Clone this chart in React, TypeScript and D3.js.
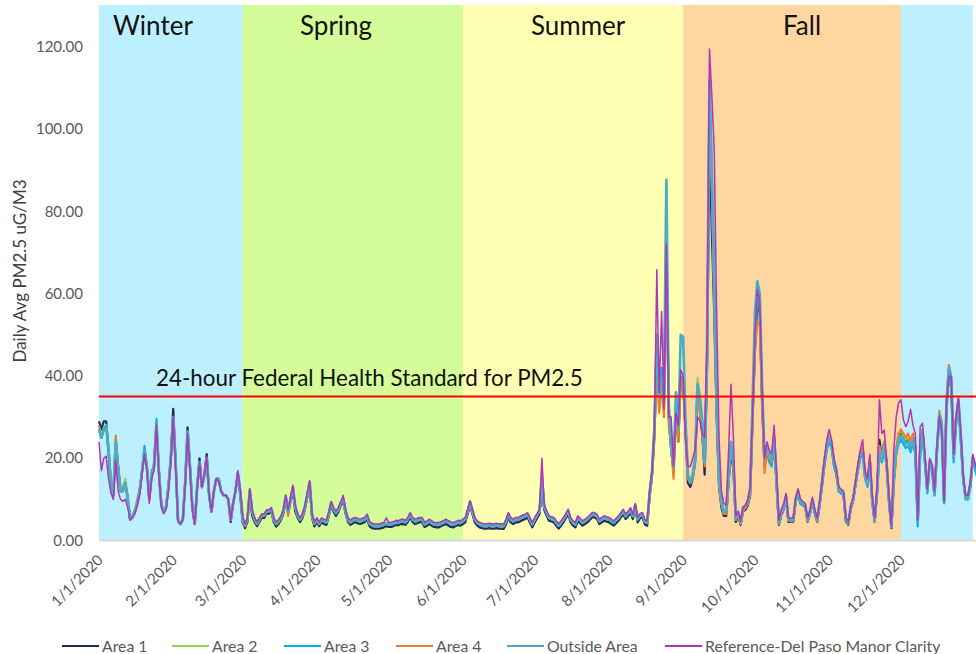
import * as d3 from 'd3';

// daily averages, 1/1/2020 .. 1/2/2021 (one value per day)
const AREA_1 = [
  29, 27, 29, 29, 22, 14, 11, 24, 18, 12, 12, 14, 10, 5, 6, 7, 9, 12, 17, 21, 18, 10, 16, 18, 28, 17, 9, 7, 8, 13, 20,
  32, 19, 5, 4, 5, 14, 27.5, 18, 8, 4, 13, 20, 13, 16, 21, 11, 7, 12, 15, 14.5, 12, 11, 11, 10, 4.5, 9, 12, 16, 11,
  4.5, 3, 4.5, 11, 6, 4.5, 3.5, 4.5, 5.5, 5.5, 6.5, 6.5, 7, 4.5, 3.4, 4, 5, 6.5, 10, 6.5, 9.5, 12, 7, 5.5, 4.5, 5.5, 7.5, 10.5, 13.5, 5.5, 3.4,
  4.5, 3.5, 4.5, 4, 3.8, 6, 8.5, 7, 6, 7, 8.5, 9.5, 6.5, 4.5, 3.8, 4.2, 4.5, 4.2, 4, 4.2, 4.5, 5.2, 3.5, 3, 2.9, 2.9, 2.9, 3, 3.2, 3.5,
  3.3, 3.3, 3.5, 3.8, 3.7, 4, 4, 3.8, 4.5, 5.6, 4.5, 4, 4.2, 4.5, 4.4, 3.3, 3.6, 4, 3.6, 3.3, 3.2, 3.2, 3.5, 3.8, 4, 3.6, 3.3, 3.2, 3.5, 3.8, 3.6,
  4, 4.4, 6.4, 8.5, 6.4, 4.4, 3.6, 3.2, 3, 2.9, 2.9, 3, 2.9, 2.9, 3, 2.9, 2.9, 2.8, 3.9, 5.6, 4.4, 4, 4.4, 4.4, 4.7, 5, 5.2, 5.6, 4.4, 3.2,
  4.4, 5.4, 6.4, 12, 7.4, 6, 4.8, 4.6, 4.4, 3.6, 2.9, 3.6, 4.4, 5.4, 6.4, 4.4, 3.6, 3.2, 4.8, 4.2, 3.6, 4, 4.4, 5, 5.6, 5.6, 5.2, 4, 4.4, 4.8, 4.6,
  4.4, 4, 3.6, 4.2, 4.8, 5.6, 6.4, 5.2, 5.9, 6.8, 5.2, 7.8, 4.4, 5.4, 5.6, 3.9, 3.6, 10.5, 15.5, 25, 45, 35, 38, 32, 70, 30, 22, 17, 32, 24, 39,
  38, 26, 14, 13, 15, 19, 35, 32, 26, 16, 42, 96, 75, 55, 30, 13, 8, 6, 6, 14, 22, 17, 4.5, 6, 3.8, 7, 7.5, 8.5, 11, 29,
  46, 58, 55, 33, 18, 22, 20, 19, 24.5, 14, 3.8, 6.2, 7.5, 10, 4.5, 4.6, 4.6, 9.5, 11.5, 9, 8.6, 8.2, 4.6, 6.6, 9.5, 6.6, 4.5, 8.5, 13.5, 18.5, 22.5,
  25, 23, 18.5, 16.5, 12, 11.5, 11, 4.6, 3.8, 7.6, 9.6, 13.5, 17.5, 21, 22, 16, 14, 19, 9.5, 4.5, 12, 24.5, 20, 24, 18.5, 9.5, 3, 14.5, 21.5, 25,
  26, 25, 24, 25, 24, 25, 22.5, 4.5, 21.5, 26.5, 19.5, 12, 19, 17.5, 11, 22, 30, 28, 9.5, 33, 40, 38.5, 20, 29.5, 33, 25, 15, 10.5, 10.5, 13.5, 20,
  17.5, 15.5,
];

const AREA_2 = [
  27, 25, 27.5, 28, 22, 14, 12, 23, 17, 13, 13, 15, 10, 5, 5.5, 7, 9, 12, 17, 21, 18, 10, 16, 18, 28, 17, 9, 7, 8, 13, 20,
  30, 19, 4.5, 4, 5, 14, 26, 18, 8, 4, 13, 19, 13, 16, 20, 11, 7, 12, 15, 15, 12, 11, 11, 10, 5, 9, 12, 16.5, 12,
  5, 3.6, 5.2, 12, 7, 5.2, 4, 5, 6, 6.2, 7, 7, 7.5, 5, 4, 4.5, 5.5, 7, 10.5, 7, 10, 13, 8, 6, 5, 6, 8.2, 11, 14.5, 6, 4,
  5, 4, 5, 4.6, 4.4, 6.5, 9, 7.6, 6.6, 7.5, 9, 10.2, 7, 5, 4.4, 4.8, 5, 4.8, 4.7, 4.8, 5, 5.8, 4.1, 3.7, 3.5, 3.5, 3.5, 3.6, 3.8, 4.1,
  3.9, 3.9, 4.1, 4.4, 4.3, 4.6, 4.7, 4.4, 5.1, 6.3, 5.1, 4.7, 4.9, 5.1, 5, 3.9, 4.3, 4.7, 4.3, 3.9, 3.9, 3.9, 4.1, 4.4, 4.7, 4.3, 4, 3.9, 4.1, 4.4, 4.3,
  4.7, 5.1, 7.1, 9, 7.1, 5.1, 4.3, 3.9, 3.7, 3.6, 3.6, 3.7, 3.6, 3.6, 3.7, 3.6, 3.6, 3.5, 4.6, 6.3, 5.1, 4.7, 5.1, 5.1, 5.4, 5.7, 5.9, 6.3, 5.1, 3.9,
  5.1, 6.1, 7.1, 14, 8.1, 6.7, 5.5, 5.3, 5.1, 4.3, 3.6, 4.3, 5.1, 6.1, 7.1, 5.1, 4.3, 3.9, 5.5, 4.9, 4.3, 4.7, 5.1, 5.7, 6.3, 6.3, 5.9, 4.7, 5.1, 5.5, 5.3,
  5.1, 4.7, 4.3, 4.9, 5.5, 6.3, 7.1, 5.9, 6.6, 7.5, 5.9, 8.5, 5.1, 6.1, 6.3, 4.6, 4.3, 11.5, 16.5, 27, 48, 36, 40, 33, 75, 31, 24, 18, 33, 26, 40,
  39, 28, 16, 14.5, 16, 20, 39.5, 35, 29, 19, 45, 110, 90, 62, 34, 14, 9, 6.6, 6.5, 15, 23, 18.8, 5, 6.6, 4.2, 7.4, 8, 9, 12, 31,
  49, 60, 57, 35, 19.6, 23, 21, 20, 25.5, 15, 4.2, 6.6, 8, 10.7, 5, 5, 5, 10, 12.5, 9.4, 9, 8.6, 5, 7, 9.9, 7, 5, 9, 14, 19.5, 23.5,
  26, 24, 19, 17, 12.3, 12, 11.5, 5, 4.2, 8, 10, 14, 18, 21.2, 22.5, 16.5, 14, 20, 10, 5, 12, 22, 20, 23.6, 18.8, 10, 3.4, 15, 22, 25.5,
  27, 25.5, 24.5, 25, 23.5, 25.5, 23, 5, 22, 27, 20, 12.3, 19.6, 18, 11.5, 22, 31, 29, 9.9, 33.4, 41, 39.5, 20.4, 30, 34, 25.3, 15.5, 10.7, 11, 14, 20.4,
  18, 16,
];

const AREA_3 = [
  27, 25, 27, 28, 21, 13, 11, 24, 17, 12, 12, 14, 10, 5, 6, 7, 9, 12, 17, 23, 18, 11, 17, 18, 29.5, 17, 9, 7, 8, 13, 20,
  30, 19, 5, 4, 5, 14, 26, 18, 8, 4, 13, 19, 13, 16, 20, 11, 7, 12, 15, 15, 12, 11, 11, 10, 5, 9, 12, 16, 12,
  5, 3.5, 5, 12.5, 7, 5, 4, 5, 6, 6, 7, 7, 7.5, 5, 4, 4.5, 5.5, 7, 10.5, 7, 10, 12.5, 8, 6, 5, 6, 8, 11, 14, 6, 4,
  5, 4, 5, 4.6, 4.3, 6.5, 9, 7.5, 6.6, 7.5, 9, 10, 7, 5, 4.3, 4.8, 5, 4.8, 4.6, 4.8, 5, 5.8, 4, 3.6, 3.4, 3.4, 3.4, 3.6, 3.8, 4,
  3.8, 3.8, 4, 4.3, 4.2, 4.5, 4.6, 4.3, 5, 6.4, 5, 4.6, 4.8, 5, 5, 3.8, 4.2, 4.6, 4.2, 3.8, 3.8, 3.8, 4, 4.3, 4.6, 4.2, 3.9, 3.8, 4, 4.3, 4.2,
  4.6, 5, 7.2, 9.5, 7, 5, 4.2, 3.8, 3.6, 3.5, 3.5, 3.6, 3.5, 3.5, 3.6, 3.5, 3.5, 3.4, 4.5, 6.2, 5, 4.6, 5, 5, 5.3, 5.6, 5.8, 6.2, 5, 3.8,
  5, 6, 7, 15, 8, 6.6, 5.4, 5.2, 5, 4.2, 3.5, 4.2, 5, 6, 7, 5, 4.2, 3.8, 5.4, 4.8, 4.2, 4.6, 5, 5.6, 6.2, 6.2, 5.8, 4.6, 5, 5.4, 5.2,
  5, 4.6, 4.2, 4.8, 5.4, 6.2, 7, 5.8, 6.5, 7.4, 5.8, 8.4, 5, 6, 6.2, 4.5, 4.2, 11.5, 16.4, 27, 50, 34, 42, 33, 78, 30, 22, 17, 33, 25, 40,
  39, 28, 15, 14, 15.5, 19, 37, 34, 28, 19, 44, 107, 88, 60, 33, 14, 9, 6.5, 6.5, 15, 23.6, 18, 5, 6.5, 4.2, 7.4, 8, 9, 12, 31,
  50, 60, 57, 35, 18, 21, 19, 18, 23, 14, 4, 6.4, 7.8, 10.4, 4.8, 4.8, 4.8, 9.5, 11.5, 9, 8.6, 8.2, 4.8, 6.6, 9.5, 6.6, 4.8, 8.5, 13, 18, 22,
  24, 22.5, 18, 16, 12, 11.5, 11, 4.8, 4, 7.6, 9.6, 13.5, 17, 20, 21, 15, 13, 18, 9.5, 4.8, 11.5, 21, 19, 22, 18, 9.5, 3.2, 14, 21, 23.5,
  24.5, 23.5, 22.5, 23, 21.5, 23.5, 21, 3.4, 21, 25.5, 19, 11.5, 18.5, 17, 11, 21, 29, 27, 9, 31, 40, 37, 19, 28, 33, 24, 14.5, 10, 10, 13, 19.5,
  17, 15,
];

const AREA_4 = [
  28, 25, 27, 28, 22, 14, 12, 25.5, 18, 13, 12, 14, 11, 5, 6, 7.5, 10, 12.5, 17, 21, 18, 10, 16, 19, 28, 17, 9, 7, 8, 13, 20,
  30, 19, 5, 4, 5, 14, 26, 18, 8, 4, 13, 19, 13, 16, 20, 11, 7.5, 12, 15, 15, 12, 11, 11, 10, 5, 9, 12, 16, 11.5,
  5, 3.5, 5, 12, 7, 5, 4, 5, 6, 6, 7, 7, 7.5, 5, 4, 4.5, 5.5, 7.5, 11, 6, 10, 12.7, 8, 6, 5, 6, 8, 11, 14, 6, 4,
  5, 4, 5.2, 4.6, 4.4, 6.5, 9.2, 7.5, 6.7, 7.6, 9, 10, 7.2, 5, 4.3, 4.9, 5.1, 4.9, 4.7, 4.9, 5.1, 5.9, 4.1, 3.7, 3.5, 3.5, 3.5, 3.7, 3.9, 4.1,
  3.9, 3.9, 4.1, 4.4, 4.3, 4.6, 4.7, 4.4, 5.1, 6.4, 5.1, 4.7, 4.9, 5.1, 5.1, 3.9, 4.3, 4.7, 4.3, 3.9, 3.9, 3.9, 4.1, 4.4, 4.7, 4.3, 4, 3.9, 4.1, 4.4, 4.3,
  4.7, 5.1, 7, 9, 7, 5.1, 4.3, 3.9, 3.7, 3.6, 3.6, 3.7, 3.6, 3.6, 3.7, 3.6, 3.6, 3.5, 4.6, 6.2, 5.1, 4.7, 5.1, 5.1, 5.4, 5.7, 5.9, 6.3, 5.1, 3.9,
  5.1, 6.1, 7.1, 16, 8.1, 6.7, 5.5, 5.3, 5.1, 4.3, 3.6, 4.3, 5.1, 6.1, 7.1, 5.1, 4.3, 3.9, 5.5, 4.9, 4.3, 4.7, 5.1, 5.7, 6.3, 6.3, 5.9, 4.7, 5.1, 5.5, 5.3,
  5.1, 4.7, 4.3, 4.9, 5.5, 6.3, 7.1, 5.9, 6.6, 7.5, 5.9, 8.5, 5.1, 6.1, 6.3, 4.6, 4.3, 11, 16, 26, 42, 31, 38, 30, 72, 28, 23, 15, 30, 24, 39,
  38, 27, 15, 14, 15, 19, 36, 31, 26, 18, 43, 104, 85, 60, 32, 14, 9, 6.5, 6.4, 15, 23, 18, 5, 6.4, 4, 7, 8, 9, 11.5, 30,
  47, 52.8, 53, 33, 16.4, 22, 20, 19, 25, 15, 4, 6.4, 8, 10.5, 4.8, 4.8, 4.8, 9.8, 12, 9.4, 9, 8.4, 4.8, 7, 9.8, 7, 4.6, 9, 14, 19, 23,
  25.5, 24, 19.5, 17, 12.5, 12, 11.5, 4.8, 4, 8, 10, 14, 18, 21.5, 22.5, 16, 14, 19.6, 10, 4.5, 12, 23, 20.5, 24, 19, 10, 3.5, 15, 22.5, 26,
  27, 26, 25, 26, 24, 26, 23, 4.5, 22.5, 27, 20, 12, 19.6, 18, 11, 22.5, 31.5, 29, 9.5, 34, 42.7, 40, 20.4, 30, 34.6, 25.3, 15, 10, 11, 14, 20.4,
  18, 16,
];

const OUTSIDE_AREA = [
  27, 25, 27, 28, 22, 13, 11, 24, 17, 12, 12, 14, 10, 5.5, 6, 7, 9, 12, 17, 22, 18, 10, 16, 18, 28.5, 17, 9, 7, 8, 13, 20,
  30, 19, 5, 4.2, 5, 14, 26.5, 18, 8, 4.2, 13, 19, 13, 16, 20, 11, 7, 12, 15, 15, 12, 11, 11, 10, 5, 9, 12, 16.5, 12,
  5.2, 3.7, 5.2, 12, 7.2, 5.2, 4.2, 5.2, 6.2, 6.2, 7.2, 7.2, 7.7, 5.2, 4.2, 4.7, 5.7, 7.2, 10.7, 7.2, 10.2, 12.9, 8.2, 6.2, 5.2, 6.2, 8.2, 11.2, 14.2, 6.2, 4.2,
  5.2, 4.2, 5.2, 4.8, 4.5, 6.7, 9.2, 7.7, 6.8, 7.7, 9.2, 10.2, 7.2, 5.2, 4.5, 5, 5.2, 5, 4.8, 5, 5.2, 6, 4.2, 3.8, 3.6, 3.6, 3.6, 3.8, 4, 4.2,
  4, 4, 4.2, 4.5, 4.4, 4.7, 4.8, 4.5, 5.2, 6.4, 5.2, 4.8, 5, 5.2, 5.2, 4, 4.4, 4.8, 4.4, 4, 4, 4, 4.2, 4.5, 4.8, 4.4, 4.1, 4, 4.2, 4.5, 4.4,
  4.8, 5.2, 7.2, 9.4, 7.2, 5.2, 4.4, 4, 3.8, 3.7, 3.7, 3.8, 3.7, 3.7, 3.8, 3.7, 3.7, 3.6, 4.7, 6.4, 5.2, 4.8, 5.2, 5.2, 5.5, 5.8, 6, 6.4, 5.2, 4,
  5.2, 6.2, 7.2, 15, 8.2, 6.8, 5.6, 5.4, 5.2, 4.4, 3.7, 4.4, 5.2, 6.2, 7.2, 5.2, 4.4, 4, 5.6, 5, 4.4, 4.8, 5.2, 5.8, 6.4, 6.4, 6, 4.8, 5.2, 5.6, 5.4,
  5.2, 4.8, 4.4, 5, 5.6, 6.4, 7.2, 6, 6.7, 7.6, 6, 8.6, 5.2, 6.2, 6.4, 4.7, 4.4, 11.7, 16.6, 27.5, 50, 35, 40, 34, 87.7, 33, 24, 18, 36, 27, 50,
  49.5, 29, 16, 14, 16, 20, 38, 35, 29, 19, 46, 112, 90, 62, 34, 15, 9.5, 7, 7, 16, 24, 19, 5.5, 7, 4.5, 8, 8.5, 9.5, 12.5, 33,
  55, 63, 60, 37, 20, 23, 21, 19.6, 25.3, 15, 4.2, 6.6, 8, 10.7, 5, 5, 5, 9.9, 11.9, 9.4, 9, 8.6, 5, 7, 9.9, 7, 5, 9, 14, 19, 23,
  25, 23.5, 19, 17, 12.3, 12, 11.5, 5, 4.2, 8, 10, 14, 17.5, 20.5, 21.5, 15.5, 13.5, 19, 9.8, 4.8, 11.8, 21.5, 19.5, 23, 18.5, 9.8, 3.4, 14.5, 21.5, 24.5,
  25.5, 24.5, 23.5, 24, 22.5, 24.5, 22, 4.5, 21.5, 26.5, 19.5, 12, 19, 17.5, 11, 21.5, 30.5, 28.5, 9.5, 33, 42, 39.5, 20, 29.5, 34, 25, 15, 10.5, 10.5, 13.5, 20,
  18, 16,
];

const REFERENCE = [
  24, 17, 20, 20.5, 15, 11.5, 10, 19.5, 12, 10, 9.5, 10, 8, 5, 5.5, 6.5, 8.5, 11, 16, 21, 17, 9, 15, 17, 28, 16, 8, 6.5, 7.5, 12, 19,
  30, 18, 4.5, 4, 5, 13, 26, 17, 7.5, 4, 12.5, 19, 13, 16, 20.5, 11, 7, 12, 15, 14.5, 12, 11, 11, 10, 5, 9, 12, 17, 12.5,
  6, 4, 5.5, 12.5, 7.5, 5.5, 4.5, 5.5, 6.5, 6.5, 7.5, 7.5, 8, 5.5, 4.5, 5, 6, 7.5, 11, 7.5, 10.5, 13.5, 8.5, 6.5, 5.5, 6.5, 8.5, 11.5, 14.5, 6.5, 4.5,
  5.5, 4.5, 5.5, 5.2, 5, 7, 9.5, 8, 7.2, 8, 9.5, 11, 7.5, 5.5, 5, 5.4, 5.6, 5.4, 5.2, 5.4, 5.6, 6.4, 4.6, 4.2, 4, 4, 4, 4.2, 4.4, 5.5,
  4.4, 4.4, 4.6, 4.9, 4.8, 5.1, 5.2, 4.9, 5.6, 6.8, 5.6, 5.2, 5.4, 5.6, 5.6, 4.4, 4.8, 5.2, 4.8, 4.4, 4.4, 4.4, 4.6, 4.9, 5.2, 4.8, 4.5, 4.4, 4.6, 4.9, 4.8,
  5.2, 5.6, 7.6, 9.6, 7.6, 5.6, 4.8, 4.4, 4.2, 4.1, 4.1, 4.2, 4.1, 4.1, 4.2, 4.1, 4.1, 4, 5.1, 6.8, 5.6, 5.2, 5.6, 5.6, 5.9, 6.2, 6.4, 6.8, 5.6, 4.4,
  5.6, 6.6, 7.6, 20, 8.6, 7.2, 6, 5.8, 5.6, 4.8, 4.1, 4.8, 5.6, 6.6, 7.6, 5.6, 4.8, 4.4, 6, 5.4, 4.8, 5.2, 5.6, 6.2, 6.8, 6.8, 6.4, 5.2, 5.6, 6, 5.8,
  5.6, 5.2, 4.8, 5.4, 6, 6.8, 7.6, 6.4, 7.1, 8, 6.4, 9, 5.6, 6.6, 6.8, 5.1, 4.8, 12, 17, 27, 65.8, 36, 55.7, 32, 72, 30, 30, 18, 31, 28, 41.5,
  40, 25, 18, 18, 20, 22, 30, 29, 26, 25, 50, 119.5, 108, 95, 55, 25, 12, 9, 8.5, 22, 38, 25, 6, 7, 4.8, 8, 8.5, 10, 13, 31,
  50, 61, 58, 37, 20, 24, 22, 21, 28, 17, 5, 7.5, 9, 11.5, 5.5, 5.5, 5.5, 10.5, 12.5, 10, 9.5, 9, 5.5, 7.5, 10.5, 7.5, 5.5, 9.5, 14.5, 20, 24.5,
  27, 24.5, 20, 17.5, 13, 12.5, 12, 5.5, 4.5, 8.5, 10.5, 14.5, 18.5, 22, 24.5, 17, 15, 21, 11, 5.5, 13, 34.2, 26, 26.9, 20, 11, 3.5, 22, 30, 33.5,
  34.2, 29.3, 27.7, 29, 31.9, 28, 26, 5, 27.7, 28.5, 21, 12.5, 20, 18.5, 12, 23, 30, 27, 9.5, 33, 40, 39.9, 21, 30, 34.6, 26, 16, 11, 11, 14.5, 21,
  18.5, 16.5,
];

const SERIES_NAMES = ['Area 1', 'Area 2', 'Area 3', 'Area 4', 'Outside Area', 'Reference-Del Paso Manor Clarity'];
const SERIES_VALUES = [AREA_1, AREA_2, AREA_3, AREA_4, OUTSIDE_AREA, REFERENCE];
const SERIES_COLORS = ['#1F2A5E', '#92D050', '#00B0F0', '#ED7D31', '#4BACC6', '#B036B8'];
const SERIES_WIDTHS = [2.2, 2.2, 2.2, 2.2, 2.7, 1.5];

const SEASONS = ['Winter', 'Spring', 'Summer', 'Fall', ''];
const SEASON_STARTS = ['2020-01-01', '2020-03-01', '2020-06-01', '2020-09-01', '2020-12-01'];
const SEASON_ENDS = ['2020-03-01', '2020-06-01', '2020-09-01', '2020-12-01', '2020-12-31'];
const SEASON_COLORS = ['#BDF0FF', '#D4FC98', '#FFFFB3', '#FDD6A0', '#BDF0FF'];
const SEASON_LABEL_X = [113, 300, 531, 783, 0];

const MONTH_TICKS = ['1/1/2020', '2/1/2020', '3/1/2020', '4/1/2020', '5/1/2020', '6/1/2020',
  '7/1/2020', '8/1/2020', '9/1/2020', '10/1/2020', '11/1/2020', '12/1/2020'];
const Y_TICKS = [0, 20, 40, 60, 80, 100, 120];
const STANDARD = 35;

const W = 976;
const H = 654;
const LEFT = 99;
const TOP = 5;
const BOTTOM = 540.5;

const parse = d3.timeParse('%Y-%m-%d');
const parseTick = d3.timeParse('%m/%d/%Y');
const START = parse('2020-01-01') as Date;
const dates = d3.timeDay.range(START, d3.timeDay.offset(START, AREA_1.length));

export default function App() {
  const x = d3.scaleTime()
    .domain([START, parse('2021-01-01') as Date])
    .range([LEFT, 975.2]);
  const y = d3.scaleLinear().domain([0, 130.2]).range([BOTTOM, TOP]);

  const line = d3.line<number>()
    .x((_, i) => x(dates[i]))
    .y((d) => y(d));

  const font = 'Lato, "Open Sans", sans-serif';

  return (
    <svg width={W} height={H} style={{ position: 'absolute', left: 0, top: 0, background: '#fff' }} fontFamily={font}>
      {SEASONS.map((s, i) => {
        const x0 = x(parse(SEASON_STARTS[i]) as Date);
        const x1 = x(parse(SEASON_ENDS[i]) as Date);
        return (
          <rect key={'b' + i} x={x0} y={TOP} width={x1 - x0} height={BOTTOM - TOP} fill={SEASON_COLORS[i]} />
        );
      })}
      {SEASONS.map((s, i) => (s ? (
        <text key={'s' + i} x={SEASON_LABEL_X[i]} y={35} fontSize={26} fill="#111">{s}</text>
      ) : null))}

      <line x1={LEFT} x2={W} y1={y(0)} y2={y(0)} stroke="#D9D9D9" strokeWidth={2} />

      {Y_TICKS.map((t) => (
        <text key={'y' + t} x={83} y={y(t)} dy="0.35em" textAnchor="end" fontSize={15} fill="#595959">
          {t.toFixed(2)}
        </text>
      ))}
      <text transform={`translate(26, 271) rotate(-90)`} textAnchor="middle" fontSize={17} fill="#404040">
        Daily Avg PM2.5 uG/M3
      </text>

      {MONTH_TICKS.map((t) => {
        const px = x(parseTick(t) as Date);
        return (
          <text key={t} transform={`translate(${px + 5}, 561) rotate(-45)`} textAnchor="end" fontSize={15} fill="#595959">
            {t}
          </text>
        );
      })}

      <g>
        {SERIES_VALUES.map((vals, i) => (
          <path key={SERIES_NAMES[i]} d={line(vals) || ''} fill="none" stroke={SERIES_COLORS[i]}
            strokeWidth={SERIES_WIDTHS[i]} strokeLinejoin="round" />
        ))}
      </g>

      <line x1={LEFT} x2={W} y1={y(STANDARD)} y2={y(STANDARD)} stroke="#FF0000" strokeWidth={2} />
      <text x={156} y={386} fontSize={22.4} fill="#111">24-hour Federal Health Standard for PM2.5</text>

      {SERIES_NAMES.map((n, i) => {
        const lx = [62, 172, 284, 396, 507, 665][i];
        return (
          <g key={'l' + i}>
            <line x1={lx} x2={lx + 37} y1={646} y2={646} stroke={SERIES_COLORS[i]} strokeWidth={2} />
            <text x={lx + 40} y={646} dy="0.35em" fontSize={15.8} fill="#595959">{n}</text>
          </g>
        );
      })}
    </svg>
  );
}
